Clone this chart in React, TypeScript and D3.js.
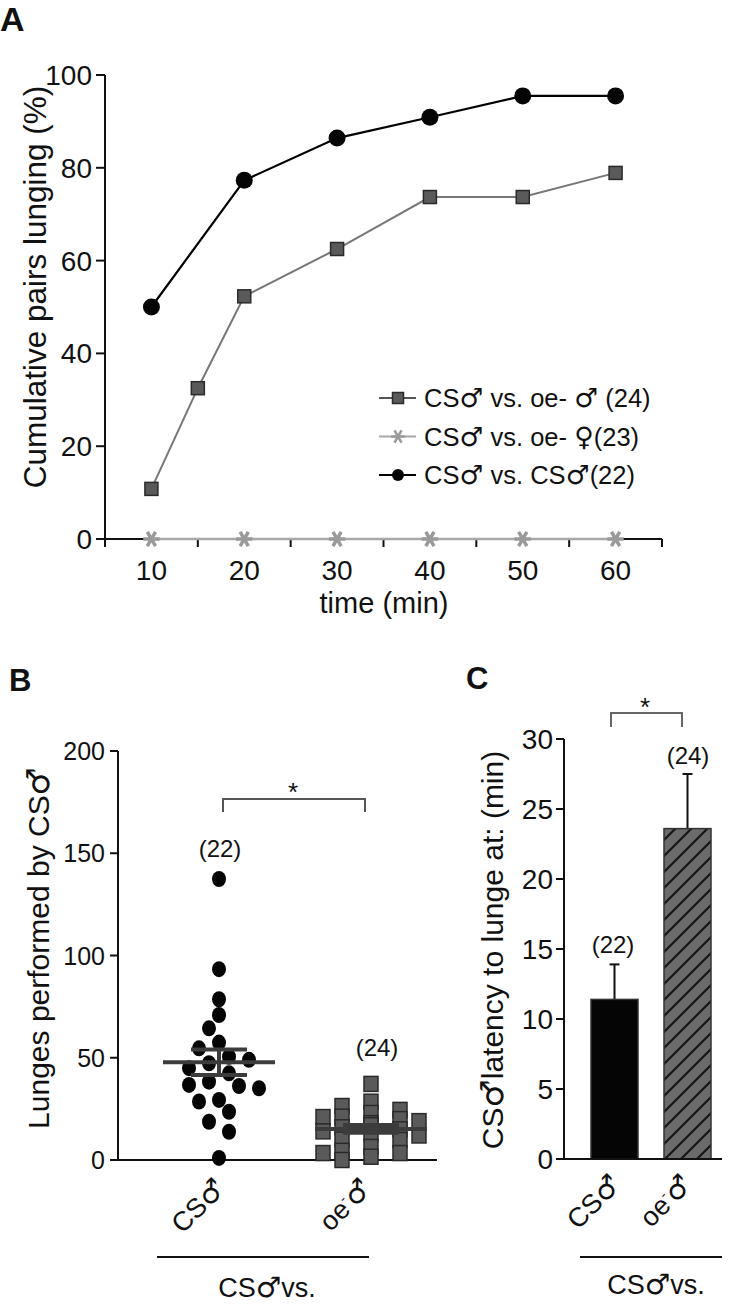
import React from 'react';
import * as d3 from 'd3';

const FONT = '"Liberation Sans", Arial, Helvetica, sans-serif';
const SYM_FONT = '"DejaVu Sans", "Noto Sans", sans-serif';
const MALE = '\u2642';
const FEMALE = '\u2640';

// ---------- Panel A data ----------
const pctTicks = [0, 20, 40, 60, 80, 100];
const timeLabelTicks = [10, 20, 30, 40, 50, 60];
const timeMinorTicks = [5, 15, 25, 35, 45, 55, 65];
const oeMaleTimes = [10, 15, 20, 30, 40, 50, 60];
const oeMalePct = [10.8, 32.5, 52.3, 62.5, 73.7, 73.7, 78.9];
const oeFemaleTimes = [10, 20, 30, 40, 50, 60];
const oeFemalePct = [0, 0, 0, 0, 0, 0];
const csMaleTimes = [10, 20, 30, 40, 50, 60];
const csMalePct = [50, 77.3, 86.4, 90.9, 95.5, 95.5];
const legendTexts = [
  `CS${MALE} vs. oe- ${MALE}  (24)`,
  `CS${MALE} vs. oe- ${FEMALE}(23)`,
  `CS${MALE} vs. CS${MALE}(22)`,
];

// ---------- Panel B data ----------
const lungeTicks = [0, 50, 100, 150, 200];
const categories = ['CS', 'oe'];
const lungesCS = [137.4, 93.3, 78.6, 70.9, 64.4, 57.4, 54.6, 50.5, 49, 47.3, 44.9, 42.4, 38.3, 36.7, 36.2, 35.1, 29.4, 28.6, 23.6, 18.7, 13.8, 1];
const lungesOe = [37.2, 28.5, 26.4, 24.5, 23, 21.2, 21, 20, 19, 18, 17, 16, 15, 14, 13, 12, 10, 9.8, 6.4, 4.5, 3.4, 3.4, 1.6, 0];
const groupNs = ['(22)', '(24)'];

// ---------- Panel C data ----------
const latencyTicks = [0, 5, 10, 15, 20, 25, 30];
const latencyMean = [11.4, 23.6];
const latencySEM = [2.5, 3.9];

function swarm(values: number[], y: (v: number) => number, cands: number[], minDx: number, minDy: number, round: boolean) {
  const order = values.map((_, i) => i).sort((a, b) => values[b] - values[a]);
  const placed: { x: number; y: number }[] = [];
  const out: number[] = new Array(values.length).fill(0);
  for (const i of order) {
    const py = y(values[i]);
    for (const off of cands) {
      const ok = placed.every((p) =>
        round ? Math.hypot(p.x - off, p.y - py) >= minDx : Math.abs(p.x - off) >= minDx || Math.abs(p.y - py) >= minDy
      );
      if (ok) {
        placed.push({ x: off, y: py });
        out[i] = off;
        break;
      }
    }
  }
  return out;
}

function Sym({ s, scale = 1.05 }: { s: string; scale?: number }) {
  const parts = s.split(/([\u2642\u2640])/);
  return (
    <>
      {parts.map((p, i) =>
        p === MALE || p === FEMALE ? (
          <tspan key={i} fontFamily={SYM_FONT} fontSize={`${scale}em`}>{p}</tspan>
        ) : (
          <tspan key={i}>{p}</tspan>
        )
      )}
    </>
  );
}

function CatLabel({ x, y, which, size }: { x: number; y: number; which: string; size: number }) {
  return (
    <text transform={`translate(${x},${y}) rotate(-45)`} textAnchor="end" fontSize={size} fontFamily={FONT} fill="#111">
      {which === 'CS' ? (
        <Sym s={`CS${MALE}`} />
      ) : (
        <>
          <tspan>oe</tspan>
          <tspan dy={-11} fontSize={size * 0.5}>-</tspan>
          <tspan dy={11} fontFamily={SYM_FONT} fontSize={size * 1.05}>{MALE}</tspan>
        </>
      )}
    </text>
  );
}

export default function App() {
  // Panel A scales
  const xA = d3.scaleLinear().domain([5, 65]).range([105, 662]);
  const yA = d3.scaleLinear().domain([0, 100]).range([539, 75]);
  const lineA = (ts: number[], vs: number[]) =>
    d3.line<number>().x((_, i) => xA(ts[i])).y((v) => yA(v))(vs) || '';
  const asterisk = d3.symbol().type(d3.symbolAsterisk).size(190)() || '';
  const square = (cx: number, cy: number, w: number, h: number, key: string | number) => (
    <rect key={key} x={cx - w / 2} y={cy - h / 2} width={w} height={h} fill="#5a5a5a" stroke="#2a2a2a" strokeWidth={1.5} />
  );

  // Panel B scales
  const xB = d3.scalePoint<string>().domain(categories).range([219, 371]);
  const yB = d3.scaleLinear().domain([0, 200]).range([1160, 751]);
  const offCS = swarm(lungesCS, yB, [0, -10, 10, -20, 20, -30, 30, -40, 40, -50, 50], 15.5, 0, true);
  const offOe = swarm(lungesOe, yB, [0, -10, 10, -29, 29, -48, 48], 17, 9, false);
  const stats = [lungesCS, lungesOe].map((arr) => {
    const m = d3.mean(arr) || 0;
    const se = (d3.deviation(arr) || 0) / Math.sqrt(arr.length);
    return { m, se };
  });

  // Panel C scales
  const xC = d3.scaleBand<string>().domain(categories).range([568, 734]).paddingInner(0.356).paddingOuter(0.315);
  const yC = d3.scaleLinear().domain([0, 30]).range([1159, 739]);

  return (
    <svg width={732} height={1308} style={{ position: 'absolute', left: 0, top: 0, background: '#fff' }} fontFamily={FONT}>
      <defs>
        <pattern id="hatch" patternUnits="userSpaceOnUse" width={16} height={16}>
          <rect width={16} height={16} fill="#6b6b6b" />
          <path d="M-4,4 L4,-4 M0,16 L16,0 M12,20 L20,12" stroke="#151515" strokeWidth={2.2} />
        </pattern>
      </defs>

      {/* ================= Panel A ================= */}
      <text x={0} y={31} fontSize={34} fontWeight="bold" fill="#111">A</text>
      <line x1={xA(5)} x2={xA(5)} y1={yA(100)} y2={yA(0) + 8} stroke="#111" strokeWidth={2} />
      {pctTicks.map((t) => (
        <g key={t}>
          <line x1={96} x2={xA(5)} y1={yA(t)} y2={yA(t)} stroke="#111" strokeWidth={2} />
          <text x={92} y={yA(t)} dy="0.36em" textAnchor="end" fontSize={28} fill="#111">{t}</text>
        </g>
      ))}
      <line x1={96} x2={xA(65)} y1={yA(0)} y2={yA(0)} stroke="#111" strokeWidth={2} />
      {timeMinorTicks.map((t) => (
        <line key={t} x1={xA(t)} x2={xA(t)} y1={yA(0)} y2={yA(0) + 8} stroke="#111" strokeWidth={2} />
      ))}
      {timeLabelTicks.map((t) => (
        <text key={t} x={xA(t)} y={580} textAnchor="middle" fontSize={28} fill="#111">{t}</text>
      ))}
      <text x={384} y={613} textAnchor="middle" fontSize={29} fill="#111">time (min)</text>
      <text transform="translate(46,287) rotate(-90)" textAnchor="middle" fontSize={31.5} fill="#111">
        Cumulative pairs lunging (%)
      </text>

      <path d={lineA(oeFemaleTimes, oeFemalePct)} fill="none" stroke="#a8a8a8" strokeWidth={2.5} />
      {oeFemaleTimes.map((t, i) => (
        <path key={t} d={asterisk} transform={`translate(${xA(t)},${yA(oeFemalePct[i])}) rotate(90)`} fill="none" stroke="#9a9a9a" strokeWidth={3.5} />
      ))}
      <path d={lineA(oeMaleTimes, oeMalePct)} fill="none" stroke="#777" strokeWidth={2} />
      {oeMaleTimes.map((t, i) => square(xA(t), yA(oeMalePct[i]), 13, 13, 'sq' + t))}
      <path d={lineA(csMaleTimes, csMalePct)} fill="none" stroke="#000" strokeWidth={2.2} />
      {csMaleTimes.map((t, i) => (
        <circle key={t} cx={xA(t)} cy={yA(csMalePct[i])} r={8.5} fill="#050505" />
      ))}

      {legendTexts.map((txt, i) => {
        const cy = 398 + i * 38.5;
        return (
          <g key={i}>
            <line x1={379} x2={416} y1={cy} y2={cy} stroke={i === 0 ? '#555' : i === 1 ? '#a8a8a8' : '#000'} strokeWidth={2} />
            {i === 0 && square(398, cy, 11, 11, 'lg0')}
            {i === 1 && <path d={asterisk} transform={`translate(398,${cy}) rotate(90) scale(0.85)`} fill="none" stroke="#9a9a9a" strokeWidth={3} />}
            {i === 2 && <circle cx={398} cy={cy} r={6} fill="#050505" />}
            <text x={424} y={cy + 9} fontSize={25.5} fill="#111"><Sym s={txt} /></text>
          </g>
        );
      })}

      {/* ================= Panel B ================= */}
      <text x={9} y={691} fontSize={31} fontWeight="bold" fill="#111">B</text>
      <line x1={118} x2={118} y1={yB(200)} y2={yB(0)} stroke="#111" strokeWidth={2} />
      {lungeTicks.map((t) => (
        <g key={t}>
          <line x1={110} x2={118} y1={yB(t)} y2={yB(t)} stroke="#111" strokeWidth={2} />
          <text x={105} y={yB(t)} dy="0.36em" textAnchor="end" fontSize={25} fill="#111">{t}</text>
        </g>
      ))}
      <line x1={110} x2={437} y1={yB(0)} y2={yB(0)} stroke="#111" strokeWidth={2} />
      <text transform="translate(49,948) rotate(-90)" textAnchor="middle" fontSize={30} fill="#111">
        <Sym s={`Lunges performed by CS${MALE}`} />
      </text>

      {lungesCS.map((v, i) => (
        <ellipse key={'c' + i} cx={(xB('CS') || 0) + offCS[i]} cy={yB(v)} rx={7} ry={8} fill="#050505" />
      ))}
      {lungesOe.map((v, i) => square((xB('oe') || 0) + offOe[i], yB(v), 14, 15, 'o' + i))}

      {stats.map((s, i) => {
        const cx = xB(categories[i]) || 0;
        return (
          <g key={'st' + i} stroke="#3c3c3c" strokeWidth={4}>
            <line x1={cx - 56} x2={cx + 56} y1={yB(s.m)} y2={yB(s.m)} />
            <line x1={cx - 28} x2={cx + 28} y1={yB(s.m + s.se)} y2={yB(s.m + s.se)} />
            <line x1={cx - 28} x2={cx + 28} y1={yB(s.m - s.se)} y2={yB(s.m - s.se)} />
            <line x1={cx} x2={cx} y1={yB(s.m + s.se)} y2={yB(s.m - s.se)} />
          </g>
        );
      })}

      <text x={220} y={857} textAnchor="middle" fontSize={24} fill="#111">{groupNs[0]}</text>
      <text x={377} y={1056} textAnchor="middle" fontSize={24} fill="#111">{groupNs[1]}</text>
      <path d="M223,812 V799 H365 V812" fill="none" stroke="#555" strokeWidth={2} />
      <text x={293} y={801} textAnchor="middle" fontSize={26} fill="#111">*</text>

      <CatLabel x={(xB('CS') || 0) + 8} y={1190} which="CS" size={27} />
      <CatLabel x={(xB('oe') || 0) + 2} y={1190} which="oe" size={27} />
      <line x1={157} x2={369} y1={1257} y2={1257} stroke="#111" strokeWidth={2} />
      <text x={267} y={1297} textAnchor="middle" fontSize={27} fill="#111"><Sym s={`CS${MALE}vs.`} /></text>

      {/* ================= Panel C ================= */}
      <text x={466} y={689} fontSize={31} fontWeight="bold" fill="#111">C</text>
      <line x1={564} x2={564} y1={yC(30)} y2={yC(0)} stroke="#111" strokeWidth={2} />
      {latencyTicks.map((t) => (
        <g key={t}>
          <line x1={556} x2={564} y1={yC(t)} y2={yC(t)} stroke="#111" strokeWidth={2} />
          <text x={553} y={yC(t)} dy="0.36em" textAnchor="end" fontSize={28} fill="#111">{t}</text>
        </g>
      ))}
      <text transform="translate(503,950) rotate(-90)" textAnchor="middle" fontSize={30} fill="#111">
        <Sym s={`CS${MALE}latency to lunge at: (min)`} />
      </text>

      {categories.map((c, i) => {
        const x0 = xC(c) || 0;
        const bw = xC.bandwidth();
        const cx = x0 + bw / 2;
        return (
          <g key={'bar' + c}>
            <line x1={cx} x2={cx} y1={yC(latencyMean[i])} y2={yC(latencyMean[i] + latencySEM[i])} stroke="#111" strokeWidth={2} />
            <line x1={cx - 5} x2={cx + 5} y1={yC(latencyMean[i] + latencySEM[i])} y2={yC(latencyMean[i] + latencySEM[i])} stroke="#111" strokeWidth={2} />
            <rect x={x0} y={yC(latencyMean[i])} width={bw} height={yC(0) - yC(latencyMean[i])}
              fill={i === 0 ? '#050505' : 'url(#hatch)'} stroke="#333" strokeWidth={1.5} />
          </g>
        );
      })}
      <line x1={556} x2={722} y1={yC(0)} y2={yC(0)} stroke="#111" strokeWidth={2} />
      <text x={613} y={953} textAnchor="middle" fontSize={24} fill="#111">{groupNs[0]}</text>
      <text x={688} y={764} textAnchor="middle" fontSize={24} fill="#111">{groupNs[1]}</text>
      <path d="M611,727 V713 H682 V727" fill="none" stroke="#666" strokeWidth={2} />
      <text x={645} y={716} textAnchor="middle" fontSize={26} fill="#111">*</text>

      <CatLabel x={(xC('CS') || 0) + xC.bandwidth() / 2 + 8} y={1186} which="CS" size={27} />
      <CatLabel x={(xC('oe') || 0) + xC.bandwidth() / 2 + 6} y={1186} which="oe" size={27} />
      <line x1={580} x2={722} y1={1257} y2={1257} stroke="#111" strokeWidth={2} />
      <text x={656} y={1294} textAnchor="middle" fontSize={27} fill="#111"><Sym s={`CS${MALE}vs.`} /></text>
    </svg>
  );
}
